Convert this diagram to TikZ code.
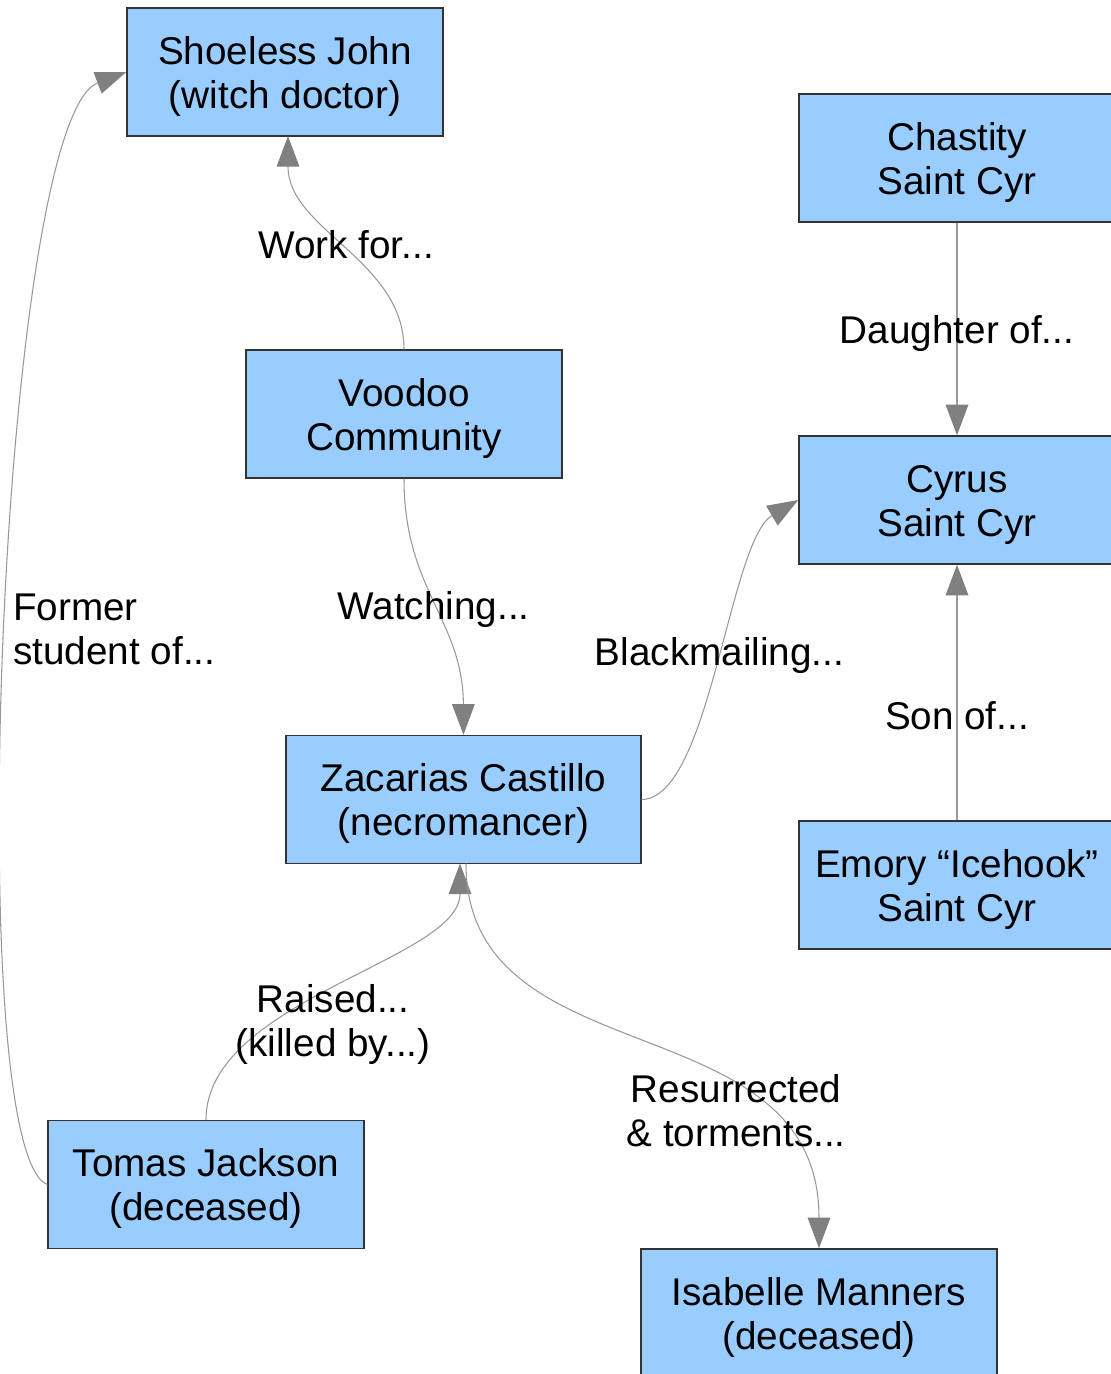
\documentclass[tikz,border=0pt]{standalone}
\usepackage{fontspec}
\setmainfont{Liberation Sans}
\usetikzlibrary{arrows.meta}
\definecolor{boxblue}{HTML}{99CCFF}
\definecolor{linegray}{HTML}{999999}
\definecolor{tipgray}{HTML}{808080}

\begin{document}
\begin{tikzpicture}[x=0.75pt, y=0.75pt, lbl/.style={inner sep = 0pt, align = center, font = \fontsize{29}{33}\selectfont, text height = 27.4pt, text depth = 6.1pt}, two/.style={text height = 60.4pt}, rel/.style={draw = linegray, line width = 0.8pt, -{Triangle[length=23pt, width=17pt, color=tipgray]}}]
\tikzstyle{box}=[lbl, two, rectangle, draw=black!80, line width=1.1pt, fill=boxblue, minimum width=237pt, minimum height=96pt]
\useasboundingbox (0,0) rectangle (1110,-1374);
\node[box] (shoeless) at (285,-72) {Shoeless John\\(witch doctor)};
\node[box] (voodoo) at (404,-414) {Voodoo\\Community};
\node[box] (chastity) at (957,-158) {Chastity\\Saint Cyr};
\node[box] (cyrus) at (957,-500) {Cyrus\\Saint Cyr};
\node[box, minimum width=266pt] (zacarias) at (463.5,-799.5) {Zacarias Castillo\\(necromancer)};
\node[box] (emory) at (957,-885) {Emory “Icehook”\\Saint Cyr};
\node[box] (tomas) at (206,-1184.5) {Tomas Jackson\\(deceased)};
\node[box, minimum width=267pt] (isabelle) at (819,-1313) {Isabelle Manners\\(deceased)};
\foreach \i/\j/\k/\p in {chastity/cyrus/{Daughter of{...}}/0.5, emory/cyrus/{Son of{...}}/0.41}{\draw[rel] (\i) -- node[lbl, pos=\p] (\i-lbl) {\k} (\j);}
\draw[rel] (voodoo.north) .. controls (404,-260) and (288,-230) .. node[lbl] (workfor) {Work for...} (288,-136);
\draw[rel] (voodoo.south) .. controls (404,-590) and (463,-620) .. node[lbl] (watching) {Watching...} (zacarias.north);
\draw[rel] (zacarias.east) .. controls (710,-799) and (729,-541) .. node[lbl, yshift=10pt] (blackmail) {Blackmailing...} (cyrus.west);
\draw[rel] (tomas.north) .. controls (206,-1000) and (460,-960) .. node[lbl, two, yshift=-28pt] (raised) {Raised...\\(killed by...)} (460,-863.5);
\draw[rel] (466,-863.5) .. controls (466,-1080) and (819,-1000) .. node[lbl, two, pos=0.72, xshift=-11.5pt, yshift=-5pt] (resurrect) {Resurrected\\\& torments...} (isabelle.north);
\draw[rel] (tomas.west) .. controls (-40,-1150) and (0,-120) .. node[lbl, two, pos=0.5, anchor=west, align=left, xshift=4.5pt, yshift=3.5pt] (former) {Former\\student of...} (shoeless.west);
\end{tikzpicture}
\end{document}
